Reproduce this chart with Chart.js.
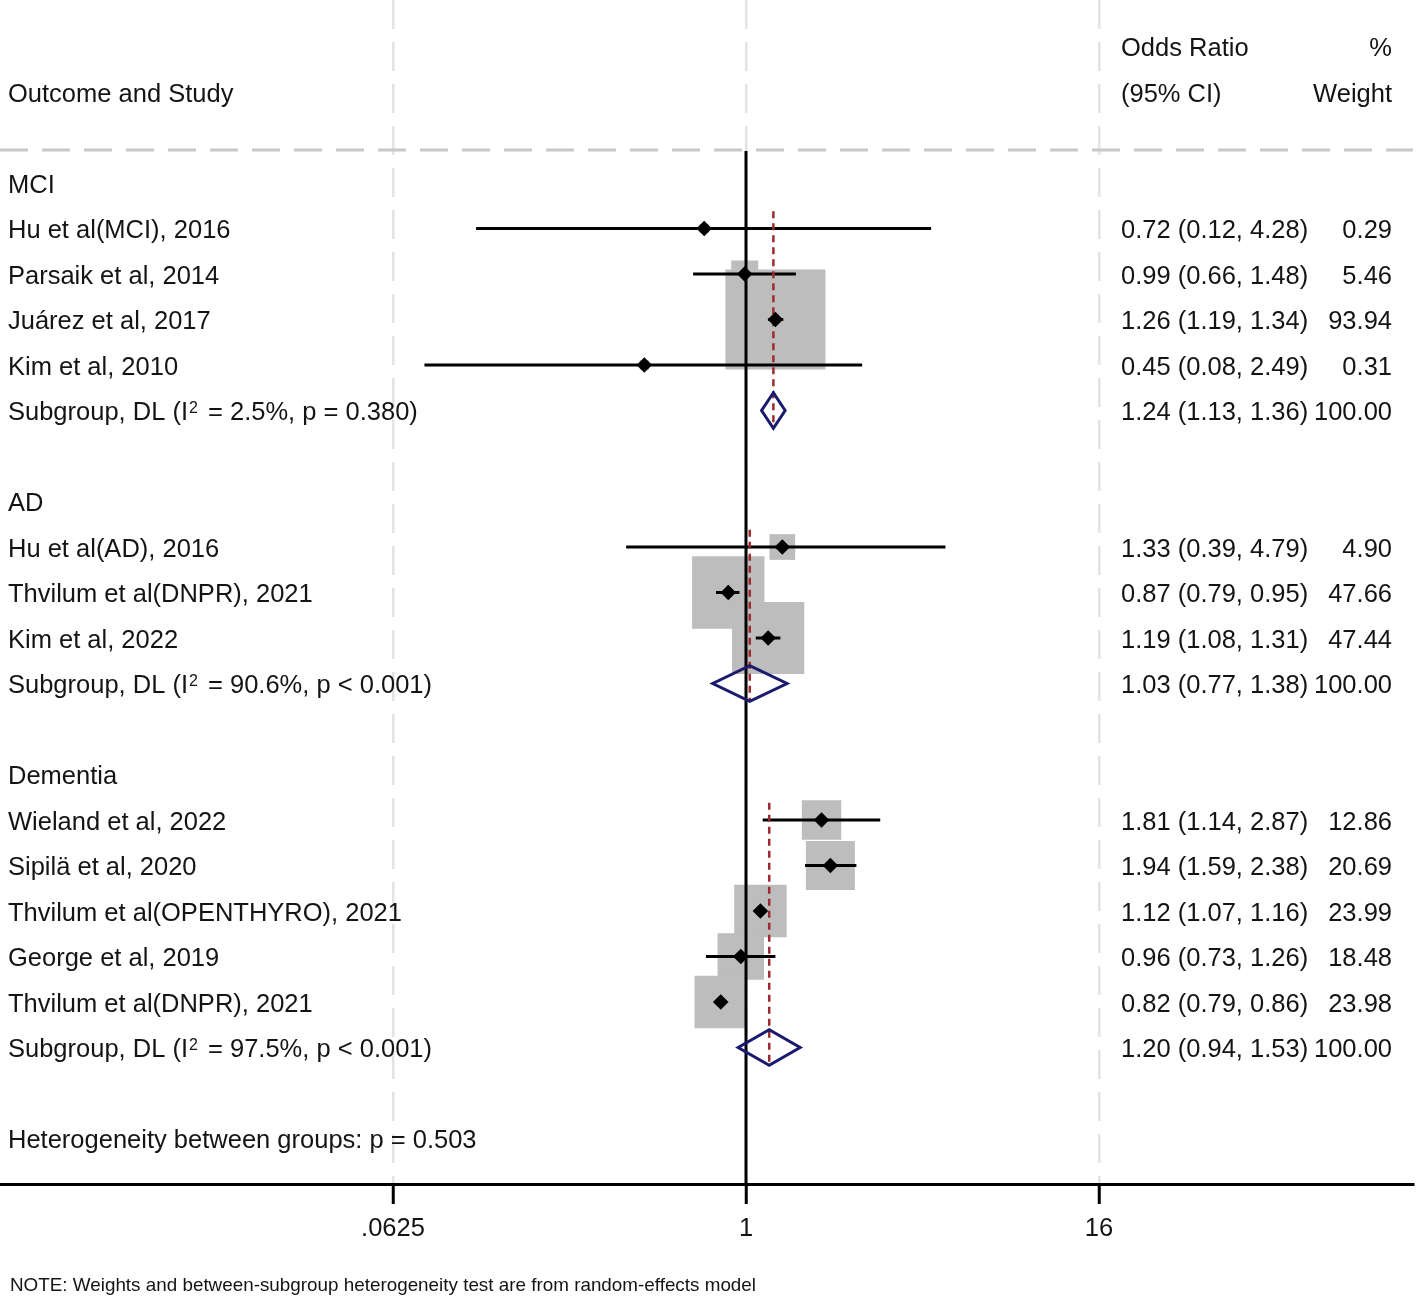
<!DOCTYPE html>
<html>
<head>
<meta charset="utf-8">
<title>Forest plot - odds ratio by outcome</title>
<script src="https://cdn.jsdelivr.net/npm/chart.js@4.4.1/dist/chart.umd.min.js"></script>
<style>
  html, body { margin: 0; padding: 0; background: #fff; }
  canvas { display: block; }
</style>
</head>
<body>
<canvas id="forest" width="1417" height="1296"></canvas>
<script>
// data
var groupNames = ['MCI', 'AD', 'Dementia'];
var studyLabels = [
	'Hu et al(MCI), 2016',
	'Parsaik et al, 2014',
	'Juárez et al, 2017',
	'Kim et al, 2010',
	'Hu et al(AD), 2016',
	'Thvilum et al(DNPR), 2021',
	'Kim et al, 2022',
	'Wieland et al, 2022',
	'Sipilä et al, 2020',
	'Thvilum et al(OPENTHYRO), 2021',
	'George et al, 2019',
	'Thvilum et al(DNPR), 2021'
];
var studyGroup  = [0, 0, 0, 0, 1, 1, 1, 2, 2, 2, 2, 2];
var studyOR     = [0.72, 0.99, 1.26, 0.45, 1.33, 0.87, 1.19, 1.81, 1.94, 1.12, 0.96, 0.82];
var studyLower  = [0.12, 0.66, 1.19, 0.08, 0.39, 0.79, 1.08, 1.14, 1.59, 1.07, 0.73, 0.79];
var studyUpper  = [4.28, 1.48, 1.34, 2.49, 4.79, 0.95, 1.31, 2.87, 2.38, 1.16, 1.26, 0.86];
var studyWeight = [0.29, 5.46, 93.94, 0.31, 4.90, 47.66, 47.44, 12.86, 20.69, 23.99, 18.48, 23.98];

var pooledOR    = [1.24, 1.03, 1.20];
var pooledLower = [1.13, 0.77, 0.94];
var pooledUpper = [1.36, 1.38, 1.53];
var pooledI2    = ['2.5%', '90.6%', '97.5%'];
var pooledP     = ['p = 0.380', 'p < 0.001', 'p < 0.001'];
var betweenP    = '0.503';

var xTicks = [0.0625, 1, 16];
var xTickLabels = ['.0625', '1', '16'];

// layout
var FONT = '25.5px "Liberation Sans", Arial, sans-serif';
var SUP_FONT = '16px "Liberation Sans", Arial, sans-serif';
var NOTE_FONT = '19px "Liberation Sans", Arial, sans-serif';
var TEXT_COLOR = '#141414';
var ROW_PX = 45.5, FIRST_ROW_PX = 183, AXIS_PX = 1184, CANVAS_H = 1296;
var PLOT_RIGHT = 1413;
var PX_PER_LOG2 = (1099 - 393) / 8;

var xMin = Math.pow(2, -4 - 393 / PX_PER_LOG2);
var xMax = Math.pow(2, 4 + (PLOT_RIGHT - 1099) / PX_PER_LOG2);
var yMin = -FIRST_ROW_PX / ROW_PX;
var yMax = (AXIS_PX - FIRST_ROW_PX) / ROW_PX;
var headLineRow = (150 - FIRST_ROW_PX) / ROW_PX;

// row numbers from the group structure
var studyRow = [], headerRow = [], pooledRow = [];
var r = 0;
groupNames.forEach(function(g, gi) {
	headerRow.push(r++);
	studyGroup.forEach(function(sg, si) {
		if (sg === gi) studyRow[si] = r++;
	});
	pooledRow.push(r);
	r += 2;
});
var hetRow = r;

function boxSide(w) {
	return 9.93 * Math.sqrt(w) + 3.8;
}

var datasets = [];

datasets.push({
	data: [{x: xMin, y: headLineRow}, {x: xMax, y: headLineRow}],
	showLine: true, borderColor: '#c8c8c8', borderWidth: 3, borderDash: [28, 14],
	pointRadius: 0, order: 9
});

datasets.push({
	data: studyOR.map(function(v, i) { return {x: v, y: studyRow[i]}; }),
	pointStyle: 'rect', backgroundColor: '#bdbdbd', borderWidth: 0,
	pointRadius: studyWeight.map(function(w) { return boxSide(w) / Math.SQRT2; }),
	order: 8
});

datasets.push({
	data: [{x: 1, y: headLineRow + 0.02}, {x: 1, y: yMax}],
	showLine: true, borderColor: '#000', borderWidth: 3, pointRadius: 0, order: 7
});

studyOR.forEach(function(v, i) {
	datasets.push({
		data: [{x: studyLower[i], y: studyRow[i]}, {x: studyUpper[i], y: studyRow[i]}],
		showLine: true, borderColor: '#000', borderWidth: 3, pointRadius: 0, order: 6
	});
});

pooledOR.forEach(function(v, gi) {
	var first = headerRow[gi] + 1;
	datasets.push({
		data: [{x: v, y: first - 0.38}, {x: v, y: pooledRow[gi] + 0.39}],
		showLine: true, borderColor: '#9e2a2e', borderWidth: 2.5, borderDash: [7, 5],
		pointRadius: 0, order: 5
	});
});

datasets.push({
	data: studyOR.map(function(v, i) { return {x: v, y: studyRow[i]}; }),
	pointStyle: 'rectRot', pointRadius: 7.8, backgroundColor: '#000', borderWidth: 0,
	order: 4
});

pooledOR.forEach(function(v, gi) {
	var row = pooledRow[gi], h = 0.39;
	datasets.push({
		data: [
			{x: pooledLower[gi], y: row},
			{x: v, y: row - h},
			{x: pooledUpper[gi], y: row},
			{x: v, y: row + h},
			{x: pooledLower[gi], y: row},
			{x: v, y: row - h}
		],
		showLine: true, borderColor: '#1a1a6e', borderWidth: 3, borderJoinStyle: 'miter',
		pointRadius: 0, fill: false, order: 3
	});
});

function fmt(v) { return v.toFixed(2); }

var textPlugin = {
	id: 'forestText',
	afterDatasetsDraw: function(chart) {
		var ctx = chart.ctx, ys = chart.scales.y;
		var LX = 8, OX = 1121, WX = 1392;
		function rowY(row) { return ys.getPixelForValue(row) + 9.5; }
		function put(t, x, row, align) {
			ctx.textAlign = align || 'left';
			ctx.fillText(t, x, rowY(row));
		}
		ctx.save();
		ctx.fillStyle = TEXT_COLOR;
		ctx.font = FONT;
		ctx.textBaseline = 'alphabetic';

		put('Outcome and Study', LX, -2);
		put('Odds Ratio', OX, -3);
		put('%', WX, -3, 'right');
		put('(95% CI)', OX, -2);
		put('Weight', WX, -2, 'right');

		groupNames.forEach(function(g, gi) { put(g, LX, headerRow[gi]); });

		studyLabels.forEach(function(s, i) {
			put(s, LX, studyRow[i]);
			put(fmt(studyOR[i]) + ' (' + fmt(studyLower[i]) + ', ' + fmt(studyUpper[i]) + ')', OX, studyRow[i]);
			put(fmt(studyWeight[i]), WX, studyRow[i], 'right');
		});

		pooledOR.forEach(function(v, gi) {
			var row = pooledRow[gi], base = rowY(row), x = LX;
			var a = 'Subgroup, DL (I';
			ctx.textAlign = 'left';
			ctx.font = FONT;
			ctx.fillText(a, x, base);
			x += ctx.measureText(a).width + 1;
			ctx.font = SUP_FONT;
			ctx.fillText('2', x, base - 7);
			x += ctx.measureText('2').width;
			ctx.font = FONT;
			ctx.fillText(' = ' + pooledI2[gi] + ', ' + pooledP[gi] + ')', x + 3, base);
			put(fmt(v) + ' (' + fmt(pooledLower[gi]) + ', ' + fmt(pooledUpper[gi]) + ')', OX, row);
			put('100.00', WX, row, 'right');
		});

		put('Heterogeneity between groups: p = ' + betweenP, LX, hetRow);

		ctx.font = NOTE_FONT;
		ctx.textAlign = 'left';
		ctx.fillText('NOTE: Weights and between-subgroup heterogeneity test are from random-effects model', 10, 1291, 746);
		ctx.restore();
	}
};

window.onload = function() {
	var ctx = document.getElementById('forest').getContext('2d');
	window.forest = new Chart(ctx, {
		type: 'scatter',
		data: { datasets: datasets },
		options: {
			responsive: false,
			devicePixelRatio: 1,
			animation: false,
			events: [],
			layout: { autoPadding: false, padding: { left: 0, right: 1417 - PLOT_RIGHT, top: 0, bottom: 0 } },
			plugins: { legend: { display: false }, tooltip: { enabled: false } },
			scales: {
				x: {
					type: 'logarithmic',
					bounds: 'data',
					min: xMin,
					max: xMax,
					afterBuildTicks: function(scale) {
						scale.ticks = xTicks.map(function(v) { return {value: v}; });
					},
					afterFit: function(scale) {
						scale.height = CANVAS_H - AXIS_PX;
					},
					grid: {
						color: '#e3e3e3', lineWidth: 2.5,
						tickLength: 20, tickColor: '#000', tickWidth: 3
					},
					border: { display: true, color: '#000', width: 3, dash: [29, 13] },
					ticks: {
						autoSkip: false, maxRotation: 0, padding: 10,
						color: TEXT_COLOR,
						font: { family: '"Liberation Sans", Arial, sans-serif', size: 25.5 },
						callback: function(value) {
							var k = xTicks.indexOf(value);
							return k >= 0 ? xTickLabels[k] : '';
						}
					}
				},
				y: {
					type: 'linear',
					reverse: true,
					bounds: 'data',
					min: yMin,
					max: yMax,
					display: false
				}
			}
		},
		plugins: [textPlugin]
	});
};
</script>
</body>
</html>
